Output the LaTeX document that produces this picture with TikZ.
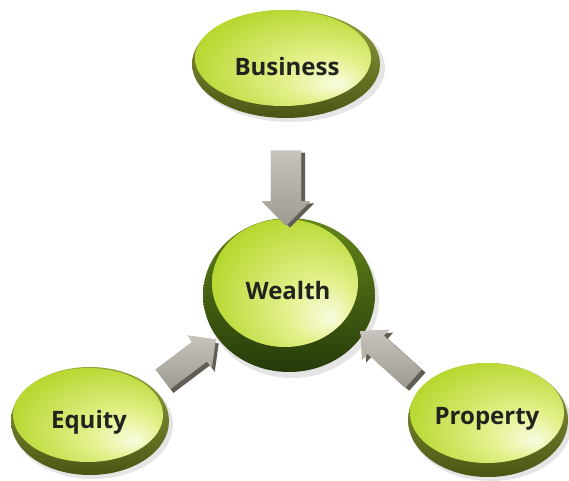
\documentclass[tikz,border=0pt]{standalone}
\usepackage{fontspec}
\setmainfont{Open Sans}
\usetikzlibrary{shapes.arrows}
\definecolor{gA}{RGB}{132,182,18}
\definecolor{gM}{RGB}{182,216,48}
\definecolor{gB}{RGB}{228,240,140}
\definecolor{gW}{RGB}{250,252,225}
\definecolor{rimL}{RGB}{150,160,62}
\definecolor{rimD}{RGB}{72,86,20}
\definecolor{wrimL}{RGB}{100,135,25}
\definecolor{wrimD}{RGB}{38,58,10}
\definecolor{arrL}{RGB}{176,171,161}
\definecolor{arrD}{RGB}{98,94,86}
\definecolor{txt}{RGB}{34,34,30}
\pgfdeclareradialshading{facesh}{\pgfpoint{16bp}{-14bp}}{color(0bp)=(gW); color(12bp)=(gB); color(32bp)=(gM); color(50bp)=(gA)}
\tikzset{
  face/.style={shading=facesh},
  rim/.style={top color=rimL, bottom color=rimD},
  wrim/.style={top color=wrimL, bottom color=wrimD},
  shadowish/.style={fill=black, opacity=0.10},
  lbl/.style={font=\fontsize{24}{27}\selectfont\bfseries, text=txt, inner sep=0pt},
  blkarr/.style={single arrow, inner xsep=0pt, text height=0pt, text depth=0pt, single arrow tip angle=90, single arrow head indent=0pt},
  arrfront/.style={blkarr, fill=arrL, top color=arrL!70!white, bottom color=arrL!90!black},
  arrback/.style={blkarr, fill=arrD}
}
\begin{document}
\begin{tikzpicture}[x=1pt,y=1pt]
\useasboundingbox[fill=white] (0,0) rectangle (569,480);
% Business
\fill[shadowish] (290,412) ellipse [x radius=95, y radius=54];
\shade[rim] (286,416) ellipse [x radius=94, y radius=54];
\shade[face] (283,422) ellipse [x radius=88, y radius=48];
\node[lbl] (business) at (287,413) {Business};
% Wealth
\fill[shadowish] (292,180) ellipse [x radius=87, y radius=78];
\shade[wrim] (289,185) ellipse [x radius=86, y radius=77];
\shade[face] (285,197) ellipse [x radius=73, y radius=64];
\node[lbl] (wealth) at (288,190) {Wealth};
% Equity
\fill[shadowish] (93,55) ellipse [x radius=80, y radius=54];
\shade[rim] (90,59) ellipse [x radius=79, y radius=54];
\shade[face] (88,65) ellipse [x radius=75, y radius=47];
\node[lbl] (equity) at (89,58) {Equity};
% Property
\fill[shadowish] (491,56) ellipse [x radius=81, y radius=57];
\shade[rim] (488,60) ellipse [x radius=80, y radius=57];
\shade[face] (487,67) ellipse [x radius=77, y radius=50];
\node[lbl] (property) at (487,61) {Property};
% arrows
\coordinate (aB) at (286,299.5);
\coordinate (aE) at (184.5,117);
\coordinate (aP) at (391.5,121);
\node[arrback, rotate=-90, minimum height=75, inner ysep=15pt, single arrow head extend=9pt] at ([shift={(4,-2)}]aB) {};
\node[arrfront, rotate=-90, minimum height=75, inner ysep=15pt, single arrow head extend=9pt] (arrowB) at (aB) {};
\node[arrback, rotate=37, minimum height=66, inner ysep=12pt, single arrow head extend=8pt] at ([shift={(3,-4)}]aE) {};
\node[arrfront, rotate=37, minimum height=66, inner ysep=12pt, single arrow head extend=8pt] (arrowE) at (aE) {};
\node[arrback, rotate=138, minimum height=71, inner ysep=12pt, single arrow head extend=8pt] at ([shift={(4,-3)}]aP) {};
\node[arrfront, rotate=138, minimum height=71, inner ysep=12pt, single arrow head extend=8pt] (arrowP) at (aP) {};
\end{tikzpicture}
\end{document}
